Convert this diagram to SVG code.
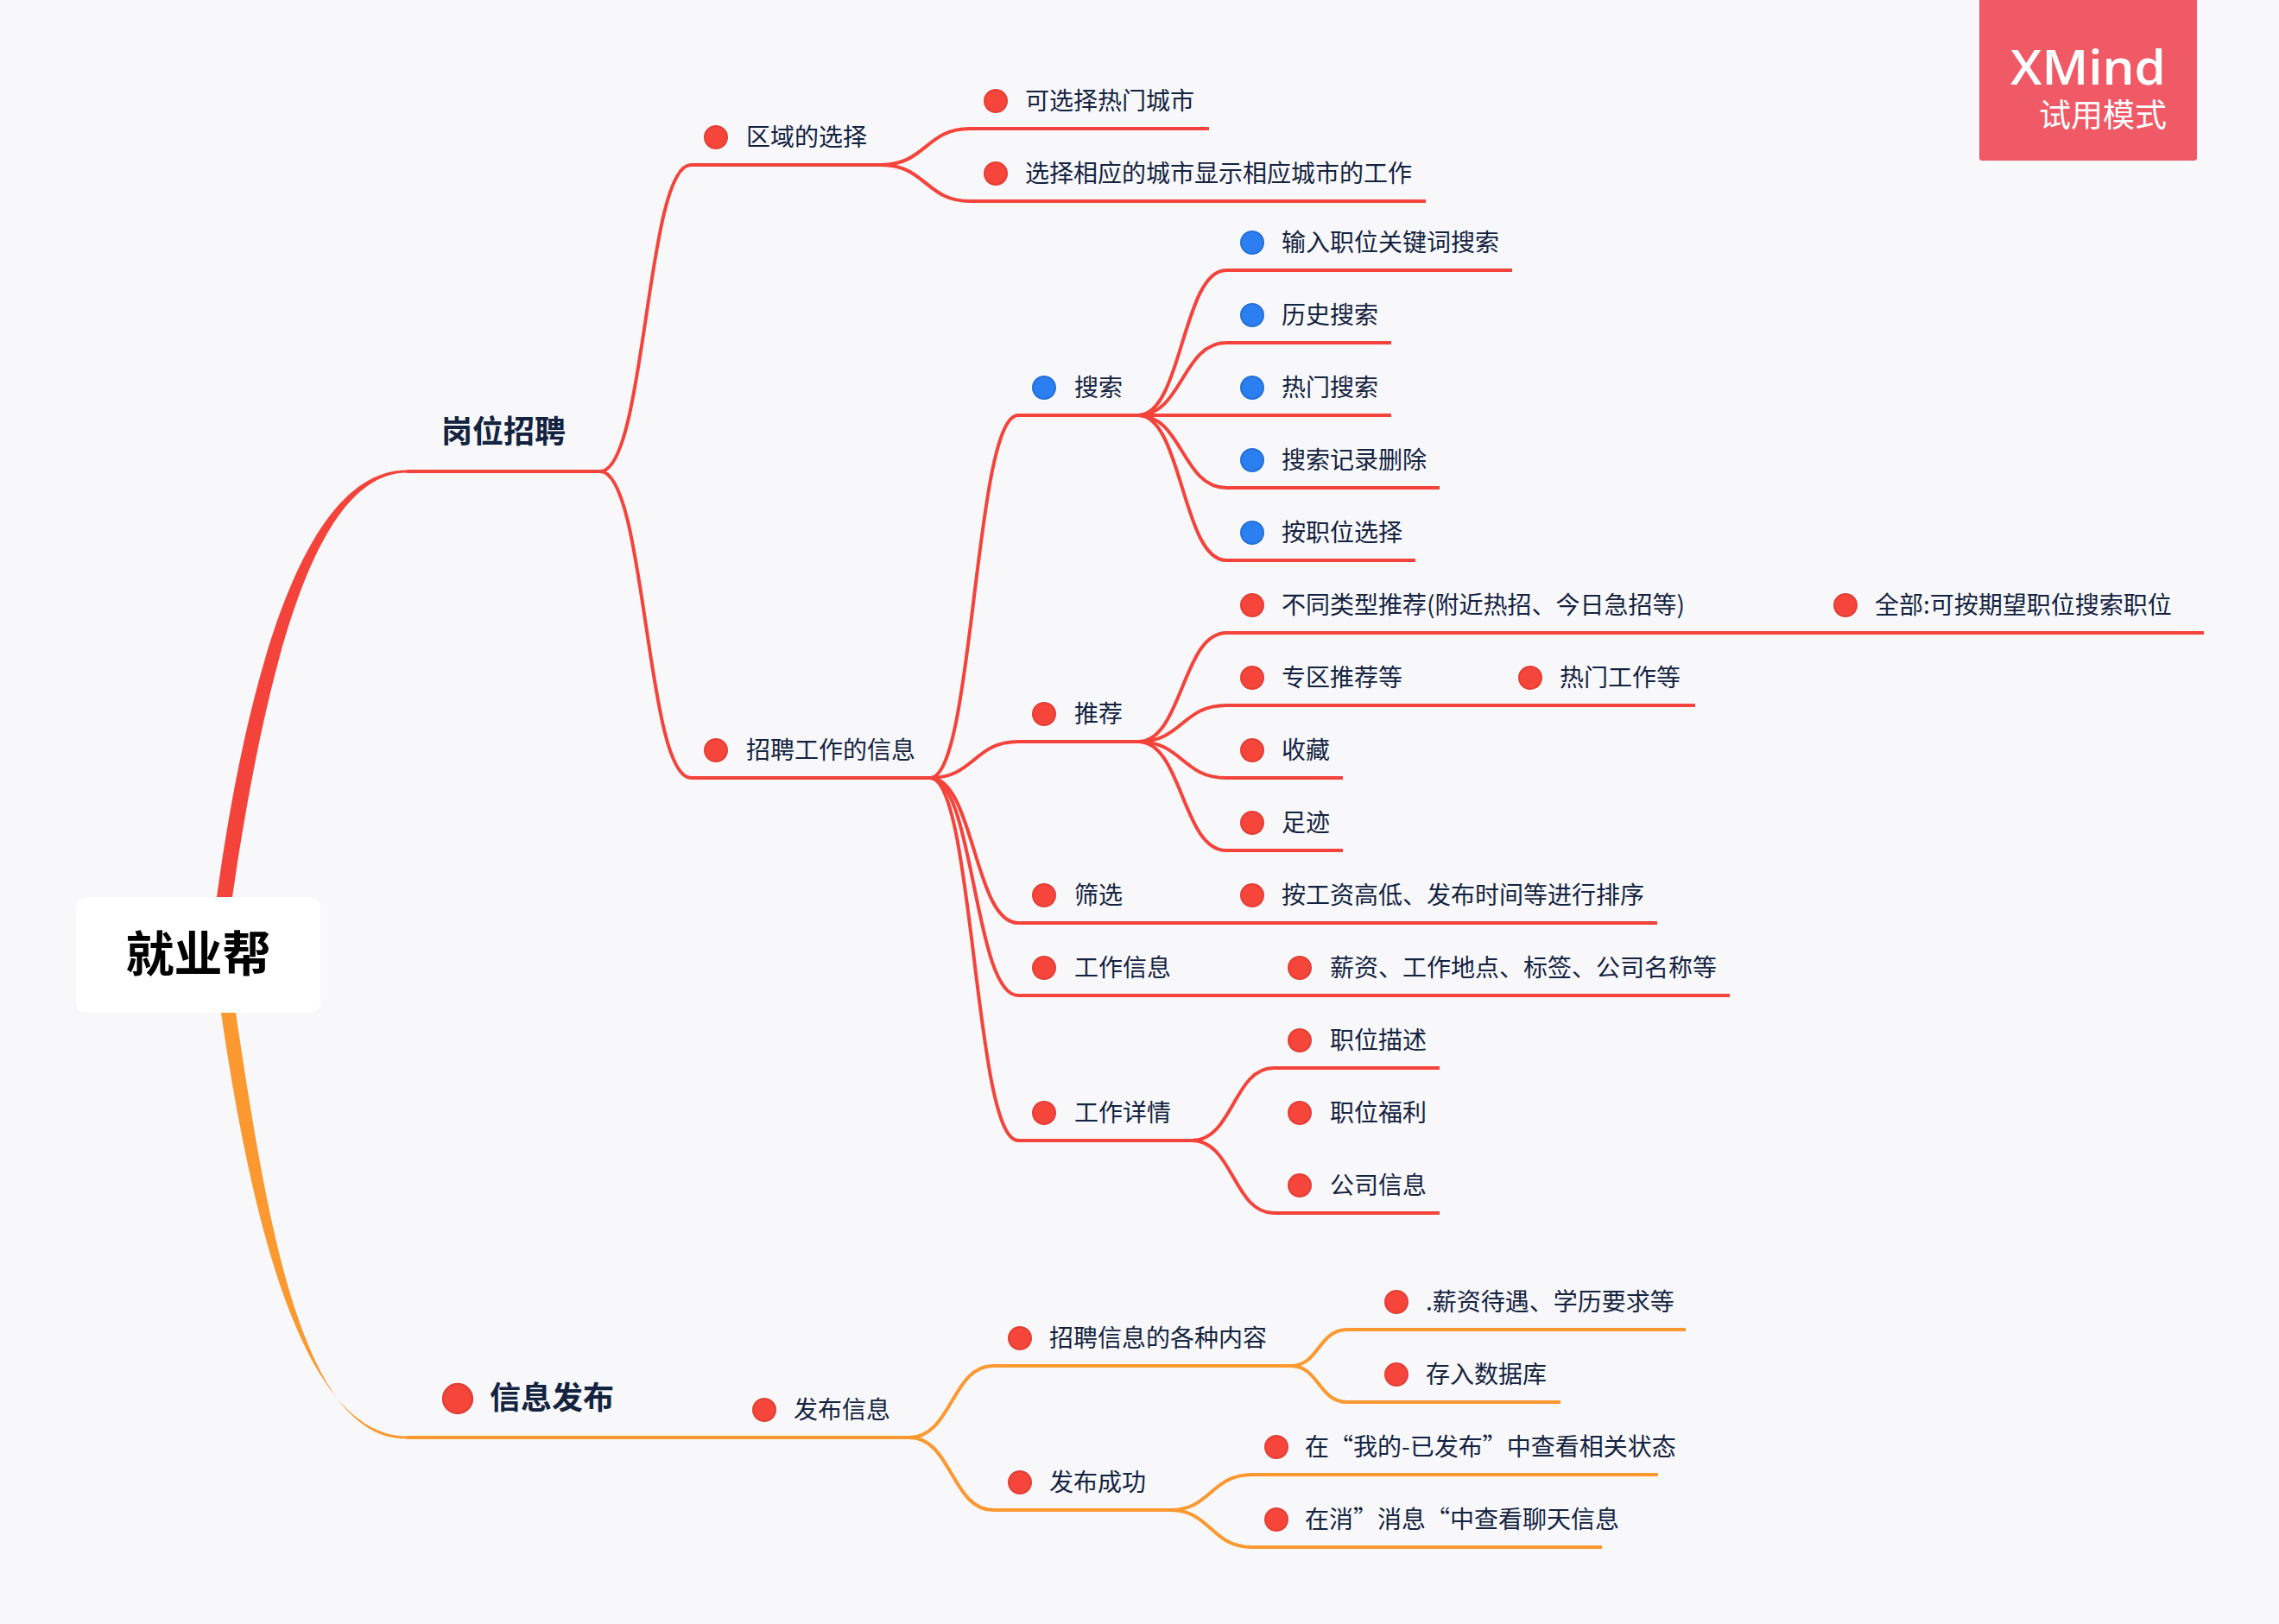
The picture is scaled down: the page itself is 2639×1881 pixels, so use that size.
<svg xmlns="http://www.w3.org/2000/svg" xmlns:xlink="http://www.w3.org/1999/xlink" width="2639" height="1881" viewBox="0 0 2639 1881">
<style>
text{font-family:"Noto Sans CJK SC","Noto Sans",sans-serif;fill:#14233f}
.t{font-size:28px}
.l{fill:none;stroke-width:4;stroke-linecap:butt}
.r{stroke:#f4433a}
.o{stroke:#fb982f}
.d{fill:#f6463c;stroke:#e23f36;stroke-width:2}
.b{fill:#2b7ff0;stroke:#2470d8;stroke-width:2}
.h{fill:#fff}
</style>
<defs>
<g id="red"><circle class="h" r="15"/><circle class="d" r="13"/></g>
<g id="blue"><circle class="h" r="15"/><circle class="b" r="13"/></g>
</defs>
<rect width="2639" height="1881" fill="#f8f8fb"/>
<g id="connectors">
<path d="M251,1039C290,758 359,544 471,544.5L471,547.5C367,548 310,762 269,1039Z" fill="#f4433a"/>
<path d="M256,1173C292,1420 352,1663.5 471,1663.5L471,1666.5C350,1667 310,1420 273,1173Z" fill="#fb982f"/>
<g class="l r">
<path d="M471,546H695"/>
<path d="M695,546C748,546 748,191 800,191H1020"/>
<path d="M695,546C748,546 748,901 800,901H1077"/>
<path d="M1020,191C1072,191 1072,149 1123,149H1400"/>
<path d="M1020,191C1072,191 1072,233 1123,233H1651"/>
<path d="M1077,901C1128,901 1128,481 1179,481H1318"/>
<path d="M1077,901C1128,901 1128,859 1179,859H1318"/>
<path d="M1077,901C1128,901 1128,1069 1179,1069H1919"/>
<path d="M1077,901C1128,901 1128,1153 1179,1153H2003"/>
<path d="M1077,901C1128,901 1128,1321 1179,1321H1380"/>
<path d="M1318,481C1369,481 1369,313 1420,313H1751"/>
<path d="M1318,481C1369,481 1369,397 1420,397H1611"/>
<path d="M1318,481C1369,481 1369,481 1420,481H1611"/>
<path d="M1318,481C1369,481 1369,565 1420,565H1667"/>
<path d="M1318,481C1369,481 1369,649 1420,649H1639"/>
<path d="M1318,859C1369,859 1369,733 1420,733H2552"/>
<path d="M1318,859C1369,859 1369,817 1420,817H1963"/>
<path d="M1318,859C1369,859 1369,901 1420,901H1555"/>
<path d="M1318,859C1369,859 1369,985 1420,985H1555"/>
<path d="M1380,1321C1428,1321 1428,1237 1475,1237H1667"/>
<path d="M1380,1321C1428,1321 1428,1405 1475,1405H1667"/>
</g>
<g class="l o">
<path d="M471,1665H1053"/>
<path d="M1053,1665C1102,1665 1102,1582 1150,1582H1495"/>
<path d="M1053,1665C1102,1665 1102,1749 1150,1749H1355"/>
<path d="M1495,1582C1527,1582 1527,1540 1560,1540H1952"/>
<path d="M1495,1582C1527,1582 1527,1624 1560,1624H1807"/>
<path d="M1355,1749C1402,1749 1402,1708 1450,1708H1920"/>
<path d="M1355,1749C1402,1749 1402,1792 1450,1792H1855"/>
</g>
</g>
<g id="root"><rect x="88" y="1039" width="283" height="134" rx="12" fill="#fff"/><text x="229.500" y="1125" font-size="56" font-weight="700" text-anchor="middle" style="fill:#000">就业帮</text></g>
<g id="n1"><text x="511" y="513" font-size="36" font-weight="700">岗位招聘</text></g>
<g id="n2"><use href="#red" transform="translate(530,1620) scale(1.3)"/><text x="567" y="1632" font-size="36" font-weight="700">信息发布</text></g>
<g id="n3"><use href="#red" x="829" y="159"/><text class="t" x="864" y="169">区域的选择</text></g>
<g id="n4"><use href="#red" x="829" y="869"/><text class="t" x="864" y="879">招聘工作的信息</text></g>
<g id="n5"><use href="#red" x="1153" y="117"/><text class="t" x="1187" y="127">可选择热门城市</text></g>
<g id="n6"><use href="#red" x="1153" y="201"/><text class="t" x="1187" y="211">选择相应的城市显示相应城市的工作</text></g>
<g id="n7"><use href="#blue" x="1209" y="449"/><text class="t" x="1244" y="459">搜索</text></g>
<g id="n8"><use href="#blue" x="1450" y="281"/><text class="t" x="1484" y="291">输入职位关键词搜索</text></g>
<g id="n9"><use href="#blue" x="1450" y="365"/><text class="t" x="1484" y="375">历史搜索</text></g>
<g id="n10"><use href="#blue" x="1450" y="449"/><text class="t" x="1484" y="459">热门搜索</text></g>
<g id="n11"><use href="#blue" x="1450" y="533"/><text class="t" x="1484" y="543">搜索记录删除</text></g>
<g id="n12"><use href="#blue" x="1450" y="617"/><text class="t" x="1484" y="627">按职位选择</text></g>
<g id="n13"><use href="#red" x="1209" y="827"/><text class="t" x="1244" y="837">推荐</text></g>
<g id="n14"><use href="#red" x="1450" y="701"/><text class="t" x="1484" y="711">不同类型推荐(附近热招、今日急招等)</text></g>
<g id="n15"><use href="#red" x="2137" y="701"/><text class="t" x="2171" y="711">全部:可按期望职位搜索职位</text></g>
<g id="n16"><use href="#red" x="1450" y="785"/><text class="t" x="1484" y="795">专区推荐等</text></g>
<g id="n17"><use href="#red" x="1772" y="785"/><text class="t" x="1806" y="795">热门工作等</text></g>
<g id="n18"><use href="#red" x="1450" y="869"/><text class="t" x="1484" y="879">收藏</text></g>
<g id="n19"><use href="#red" x="1450" y="953"/><text class="t" x="1484" y="963">足迹</text></g>
<g id="n20"><use href="#red" x="1209" y="1037"/><text class="t" x="1244" y="1047">筛选</text></g>
<g id="n21"><use href="#red" x="1450" y="1037"/><text class="t" x="1484" y="1047">按工资高低、发布时间等进行排序</text></g>
<g id="n22"><use href="#red" x="1209" y="1121"/><text class="t" x="1244" y="1131">工作信息</text></g>
<g id="n23"><use href="#red" x="1505" y="1121"/><text class="t" x="1540" y="1131">薪资、工作地点、标签、公司名称等</text></g>
<g id="n24"><use href="#red" x="1209" y="1289"/><text class="t" x="1244" y="1299">工作详情</text></g>
<g id="n25"><use href="#red" x="1505" y="1205"/><text class="t" x="1540" y="1215">职位描述</text></g>
<g id="n26"><use href="#red" x="1505" y="1289"/><text class="t" x="1540" y="1299">职位福利</text></g>
<g id="n27"><use href="#red" x="1505" y="1373"/><text class="t" x="1540" y="1383">公司信息</text></g>
<g id="n28"><use href="#red" x="885" y="1633"/><text class="t" x="919" y="1643">发布信息</text></g>
<g id="n29"><use href="#red" x="1181" y="1550"/><text class="t" x="1215" y="1560">招聘信息的各种内容</text></g>
<g id="n30"><use href="#red" x="1181" y="1717"/><text class="t" x="1215" y="1727">发布成功</text></g>
<g id="n31"><use href="#red" x="1617" y="1508"/><text class="t" x="1651" y="1518">.薪资待遇、学历要求等</text></g>
<g id="n32"><use href="#red" x="1617" y="1592"/><text class="t" x="1651" y="1602">存入数据库</text></g>
<g id="n33"><use href="#red" x="1478" y="1676"/><text class="t" x="1511" y="1686">在“我的-已发布”中查看相关状态</text></g>
<g id="n34"><use href="#red" x="1478" y="1760"/><text class="t" x="1511" y="1770">在消”消息“中查看聊天信息</text></g>
<g id="watermark"><rect x="2292" y="-10" width="252" height="196" rx="3" fill="#f05a67"/><text x="2328" y="98" font-size="56" font-weight="600" textLength="180" lengthAdjust="spacingAndGlyphs" style="fill:#fff;font-family:'Open Sans',sans-serif">XMind</text><text x="2361" y="147" font-size="37" style="fill:#fff">试用模式</text></g>
</svg>
